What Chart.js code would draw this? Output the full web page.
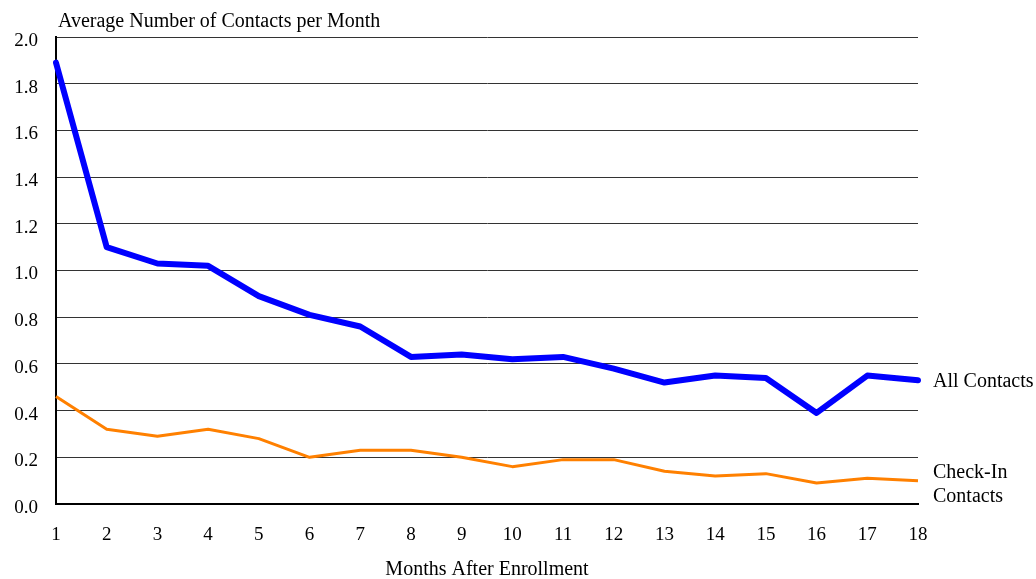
<!DOCTYPE html>
<html>
<head>
<meta charset="utf-8">
<script src="https://cdn.jsdelivr.net/npm/chart.js@4"></script>
<style>
  html, body { margin: 0; padding: 0; background: #fff; }
  #wrap { width: 1036px; height: 579px; position: relative; }
</style>
</head>
<body>
<div id="wrap"><canvas id="main-chart"></canvas></div>
<script>
// data
let months = ['1','2','3','4','5','6','7','8','9','10','11','12','13','14','15','16','17','18']
let allContacts = [1.89, 1.10, 1.03, 1.02, 0.89, 0.81, 0.76, 0.63, 0.64, 0.62, 0.63, 0.58, 0.52, 0.55, 0.54, 0.39, 0.55, 0.53]
let checkInContacts = [0.46, 0.32, 0.29, 0.32, 0.28, 0.20, 0.23, 0.23, 0.20, 0.16, 0.19, 0.19, 0.14, 0.12, 0.13, 0.09, 0.11, 0.10]
let seriesNames = [['All Contacts'], ['Check-In', 'Contacts']]
let yTitle = 'Average Number of Contacts per Month'
let xTitle = 'Months After Enrollment'

let serif = 'Liberation Serif, Times New Roman, serif'

// y title at top left and the series names at the line ends
let labelPlugin = {
  id: 'labels',
  afterDraw(chart) {
    let ctx = chart.ctx
    let area = chart.chartArea
    ctx.save()
    ctx.fillStyle = '#000'
    ctx.font = '20px ' + serif
    ctx.textAlign = 'left'
    ctx.textBaseline = 'bottom'
    ctx.fillText(yTitle, area.left + 2, area.top - 5)

    ctx.textBaseline = 'middle'
    chart.data.datasets.forEach(function(ds, i) {
      let meta = chart.getDatasetMeta(i)
      let last = meta.data[meta.data.length - 1]
      let lines = seriesNames[i]
      let lh = 24
      let y0 = last.y + 2 - (lines.length - 1) * lh / 2 + (lines.length - 1) * 2
      lines.forEach(function(t, j) {
        ctx.fillText(t, area.right + 15, y0 + j * lh)
      })
    })
    ctx.restore()
  }
}

let source = document.getElementById('main-chart')

new Chart(source, {
  type: 'line',
  data: {
    labels: months,
    datasets: [{
      label: 'All Contacts',
      data: allContacts,
      borderColor: '#0000ff',
      borderWidth: 6,
      borderCapStyle: 'round',
      borderJoinStyle: 'round',
      pointRadius: 0,
      tension: 0
    }, {
      label: 'Check-In Contacts',
      data: checkInContacts,
      borderColor: '#ff8000',
      borderWidth: 3,
      borderJoinStyle: 'round',
      pointRadius: 0,
      tension: 0
    }]
  },
  options: {
    responsive: true,
    maintainAspectRatio: false,
    animation: false,
    devicePixelRatio: 1,
    layout: { padding: { top: 37, right: 118, left: 0, bottom: 0 } },
    plugins: {
      legend: { display: false },
      tooltip: { enabled: false }
    },
    scales: {
      x: {
        offset: false,
        grid: { display: false, drawTicks: false },
        border: { display: true, color: '#000', width: 2 },
        ticks: { color: '#000', font: { family: serif, size: 19 }, padding: 20, maxRotation: 0, autoSkip: false },
        title: { display: true, text: xTitle, color: '#000', font: { family: serif, size: 20, lineHeight: 0.9 }, padding: { top: 19, bottom: 0 } },
        afterFit(scale) { scale.height = 75 }
      },
      y: {
        min: 0,
        max: 2,
        grid: { color: '#333', lineWidth: 1, drawTicks: false },
        border: { display: true, color: '#000', width: 2 },
        ticks: {
          stepSize: 0.2,
          color: '#000',
          font: { family: serif, size: 19 },
          padding: 18,
          labelOffset: 4,
          callback: function(v) { return v.toFixed(1) }
        },
        afterFit(scale) { scale.width = 56 }
      }
    }
  },
  plugins: [labelPlugin]
})
</script>
</body>
</html>
